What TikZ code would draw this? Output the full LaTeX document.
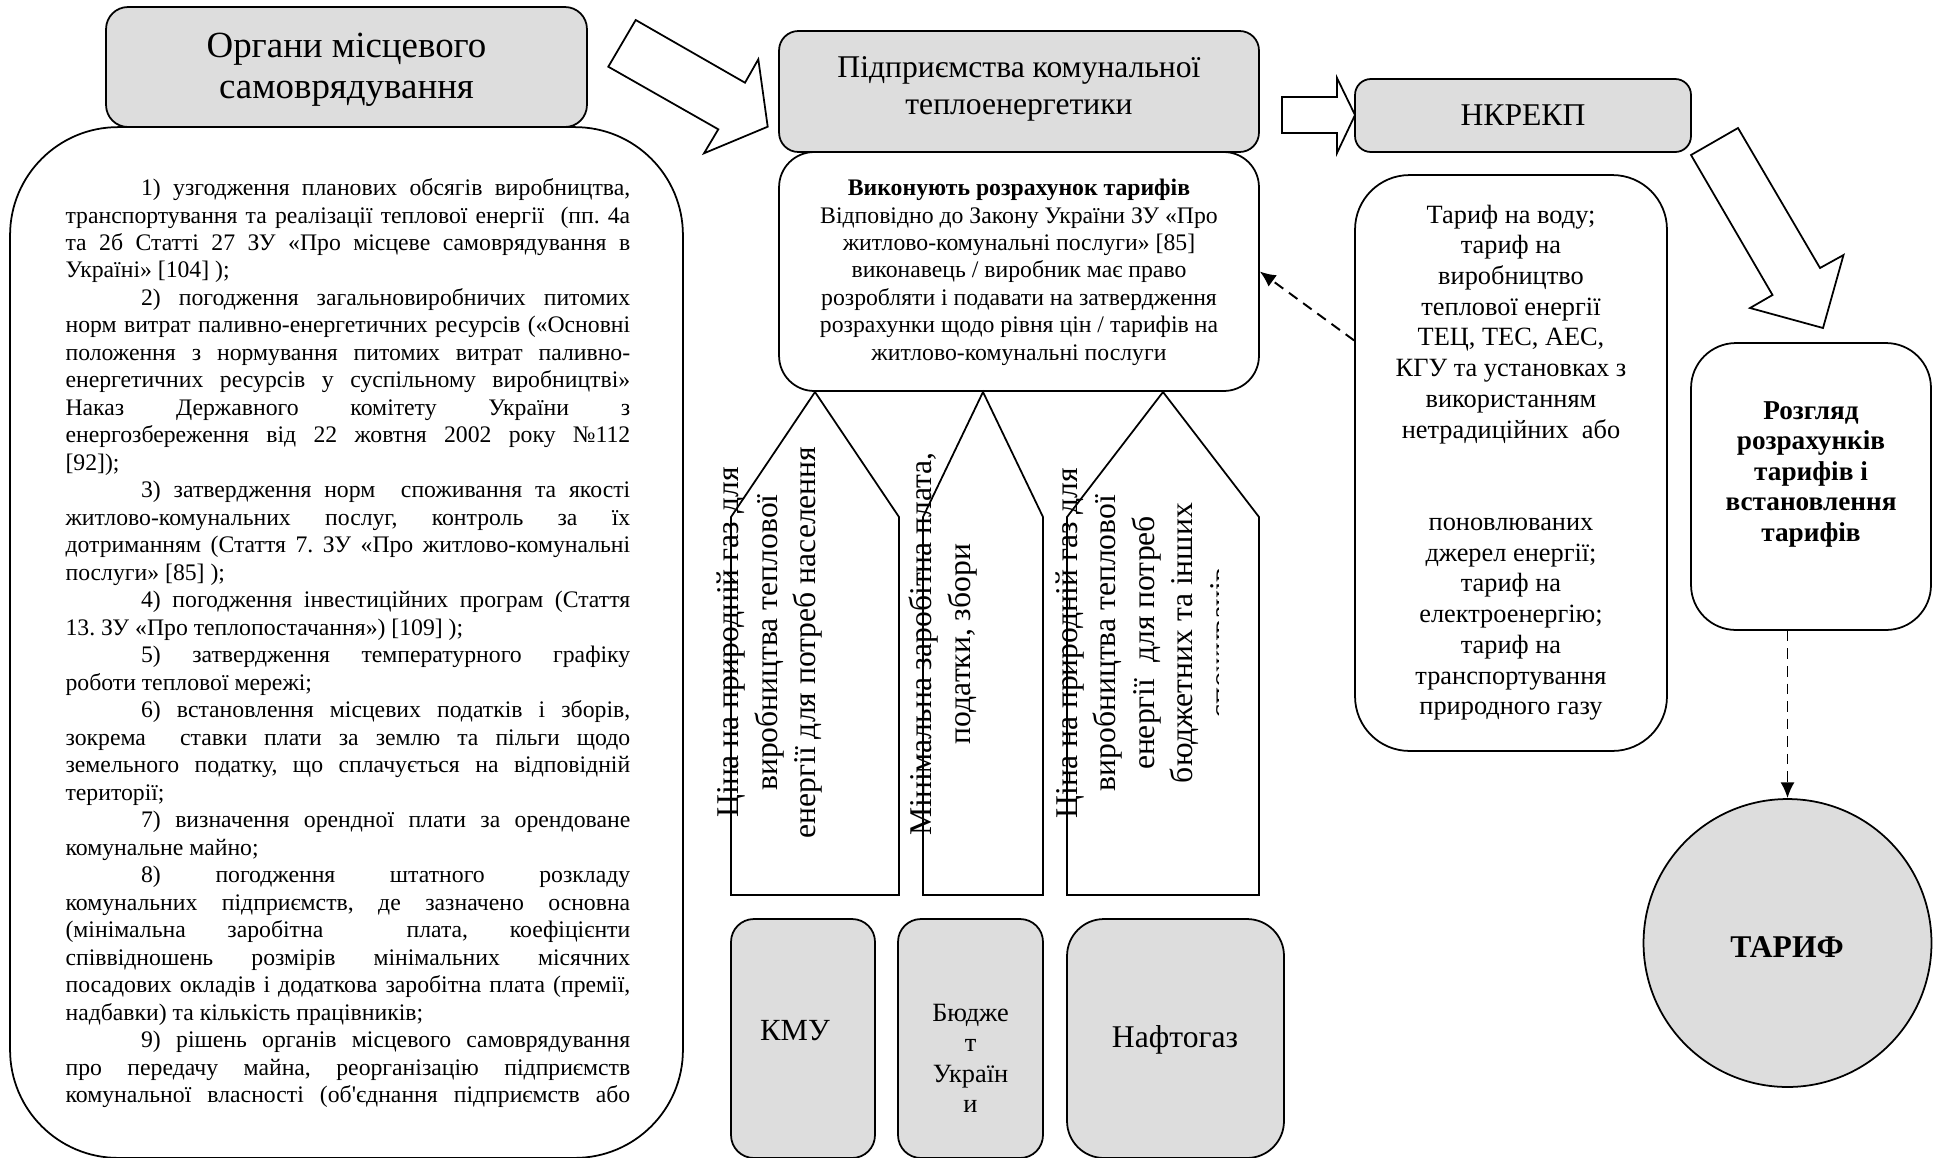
\documentclass[tikz,border=0pt]{standalone}
\usepackage{fontspec}
\setmainfont{Liberation Serif}
\usetikzlibrary{arrows.meta}
\definecolor{boxgray}{RGB}{221,221,221}
\frenchspacing
\newcommand{\fsz}[2]{\fontsize{#1}{#2}\selectfont}
\newcommand{\jline}[1]{\hbox to \hsize{#1}}
\newcommand{\iline}[1]{\hbox to \hsize{\hskip 43pt #1}}
\newcommand{\eline}[1]{\hbox{#1}}
\begin{document}
\begin{tikzpicture}[x=0.02cm,y=-0.02cm, line width=1pt,
  gbox/.style={draw, fill=boxgray, inner sep=0pt, rounded corners=#1},
  wbox/.style={draw, fill=white, inner sep=0pt, rounded corners=#1},
  txt/.style={inner sep=0pt, anchor=base},
  blockarrow/.style={draw, fill=white, line join=miter},
  dasharrow/.style={line width=1.1pt, dash pattern=on 6pt off 4pt, -{Latex[length=9pt,width=8pt]}},
  vtext/.style={rotate=90, align=center, inner sep=0pt, font=\fsz{18}{21.9}}
]
\useasboundingbox (0,0) rectangle (1936,1157);

% left column
\node[wbox=61.5pt, minimum width=13.46cm, minimum height=20.62cm] (B) at (346.5,642.5) {};
\node[gbox=12.5pt, minimum width=9.62cm, minimum height=2.4cm] (A) at (346.5,67) {};
\node[txt] (At) at (346.5,57) {\begin{minipage}[t]{9cm}\centering\fsz{21}{23.4}Органи місцевого\\самоврядування\end{minipage}};

\node[inner sep=0pt, anchor=base west] (Bt) at (64.7,195.5) {\begin{minipage}[t]{321.4pt}\fsz{13.5}{15.65}
\iline{1) узгодження планових обсягів виробництва,}
\jline{транспортування та реалізації теплової енергії\ \ (пп. 4а}
\jline{та 2б Статті 27 ЗУ «Про місцеве самоврядування в}
\eline{Україні» [104] );}
\iline{2) погодження загальновиробничих питомих}
\jline{норм витрат паливно-енергетичних ресурсів («Основні}
\jline{положення з нормування питомих витрат паливно-}
\jline{енергетичних ресурсів у суспільному виробництві»}
\jline{Наказ Державного комітету України з}
\jline{енергозбереження від 22 жовтня 2002 року №112}
\eline{[92]);}
\iline{3) затвердження норм\ \ споживання та якості}
\jline{житлово-комунальних послуг, контроль за їх}
\jline{дотриманням (Стаття 7. ЗУ «Про житлово-комунальні}
\eline{послуги» [85] );}
\iline{4) погодження інвестиційних програм (Стаття}
\eline{13. ЗУ «Про теплопостачання») [109] );}
\iline{5) затвердження температурного графіку}
\eline{роботи теплової мережі;}
\iline{6) встановлення місцевих податків і зборів,}
\jline{зокрема\ \ ставки плати за землю та пільги щодо}
\jline{земельного податку, що сплачується на відповідній}
\eline{території;}
\iline{7) визначення орендної плати за орендоване}
\eline{комунальне майно;}
\iline{8) погодження штатного розкладу}
\jline{комунальних підприємств, де зазначено основна}
\jline{(мінімальна заробітна\ \ плата, коефіцієнти}
\jline{співвідношень розмірів мінімальних місячних}
\jline{посадових окладів і додаткова заробітна плата (премії,}
\eline{надбавки) та кількість працівників;}
\iline{9) рішень органів місцевого самоврядування}
\jline{про передачу майна, реорганізацію підприємств}
\jline{комунальної власності (об\textquotesingle єднання підприємств або}
\end{minipage}};

% block arrow A -> C
\draw[blockarrow] (608.3,66.7) -- (635.7,20) -- (745,82.7) -- (758.3,59.3) -- (767.7,126.7) -- (704,153.3) -- (718.3,129.3) -- cycle;

% centre column
\node[gbox=11pt, minimum width=9.6cm, minimum height=2.42cm] (C) at (1019,91.5) {};
\node[txt] (Ct) at (1019,77.3) {\begin{minipage}[t]{9.4cm}\centering\fsz{18}{21}Підприємства комунальної\\теплоенергетики\end{minipage}};
\node[wbox=20pt, minimum width=9.6cm, minimum height=4.78cm] (D) at (1019,271.5) {};
\node[txt] (Dt) at (1019,195.5) {\begin{minipage}[t]{9.4cm}\centering\fsz{13.5}{15.65}\textbf{Виконують розрахунок тарифів}\\Відповідно до Закону України ЗУ «Про\\житлово-комунальні послуги» [85]\\виконавець / виробник має право\\розробляти і подавати на затвердження\\розрахунки щодо рівня цін / тарифів на\\житлово-комунальні послуги\end{minipage}};

% pentagons
\draw[fill=white] (731,895) -- (731,517) -- (815,392) -- (899,517) -- (899,895) -- cycle;
\draw[fill=white] (923,895) -- (923,517) -- (983,392) -- (1043,517) -- (1043,895) -- cycle;
\draw[fill=white] (1067,895) -- (1067,517) -- (1163,392) -- (1259,517) -- (1259,895) -- cycle;
\node[vtext] (P1t) at (769.7,642.5) {Ціна на природній газ для\\виробництва теплової\\енергії для потреб населення};
\node[vtext] (P2t) at (943,644) {Мінімальна заробітна плата,\\податки, збори};
\begin{scope}
\clip (1040,380) rectangle (1218,900);
\node[vtext] (P3t) at (1143.5,643) {Ціна на природній газ для\\виробництва теплової\\енергії\ \ для потреб\\бюджетних та інших\\споживачів};
\end{scope}

% bottom boxes
\node[gbox=13pt, minimum width=2.88cm, minimum height=4.78cm] (K) at (803,1038.5) {};
\node[txt, font=\fsz{17.5}{20}] (Kt) at (795,1040) {КМУ};
\node[gbox=13pt, minimum width=2.9cm, minimum height=4.78cm] (Bu) at (970.5,1038.5) {};
\node[txt] (Bot) at (970.5,1021) {\begin{minipage}[t]{2.8cm}\centering\fsz{15}{17.4}Бюдже\\т\\Україн\\и\end{minipage}};
\node[gbox=21pt, minimum width=4.34cm, minimum height=4.78cm] (N) at (1175.5,1038.5) {};
\node[txt, font=\fsz{18}{21}] (Nt) at (1175,1047) {Нафтогаз};

% block arrow C -> E
\draw[blockarrow] (1282,97) -- (1337,97) -- (1337,78) -- (1355,115) -- (1337,153) -- (1337,133) -- (1282,133) -- cycle;

% right part
\node[gbox=9pt, minimum width=6.72cm, minimum height=1.46cm] (E) at (1523,115.5) {};
\node[txt, font=\fsz{18}{21}] (Et) at (1523,125) {НКРЕКП};
\node[wbox=31pt, minimum width=6.24cm, minimum height=11.52cm] (F) at (1511,463) {};
\node[txt] (Ft) at (1511,223) {\begin{minipage}[t]{6cm}\centering\fsz{15}{17.5}Тариф на воду;\\тариф на\\виробництво\\теплової енергії\\ТЕЦ, ТЕС, АЕС,\\КГУ та установках з\\використанням\\нетрадиційних\ \ або\\[35pt]поновлюваних\\джерел енергії;\\тариф на\\електроенергію;\\тариф на\\транспортування\\природного газу\end{minipage}};

\draw[blockarrow] (1691,155) -- (1738,128) -- (1820,268) -- (1843.5,255) -- (1823,328) -- (1750,308) -- (1772.5,295) -- cycle;

\node[wbox=25.6pt, minimum width=4.8cm, minimum height=5.74cm] (G) at (1811,486.5) {};
\node[txt] (Gt) at (1811,419) {\begin{minipage}[t]{4.6cm}\centering\bfseries\fsz{15.5}{17.4}Розгляд\\розрахунків\\тарифів і\\встановлення\\тарифів\end{minipage}};

\node[circle, draw, fill=boxgray, inner sep=0pt, minimum size=5.76cm] (T) at (1787.5,943) {};
\node[txt, font=\bfseries\fsz{18}{21}] (Tt) at (1787,957) {ТАРИФ};

% dashed connectors
\draw[dasharrow] (F.142.2) -- (D.east);
\draw[dasharrow] (G.south -| T.north) -- (T.north);
\end{tikzpicture}
\end{document}
